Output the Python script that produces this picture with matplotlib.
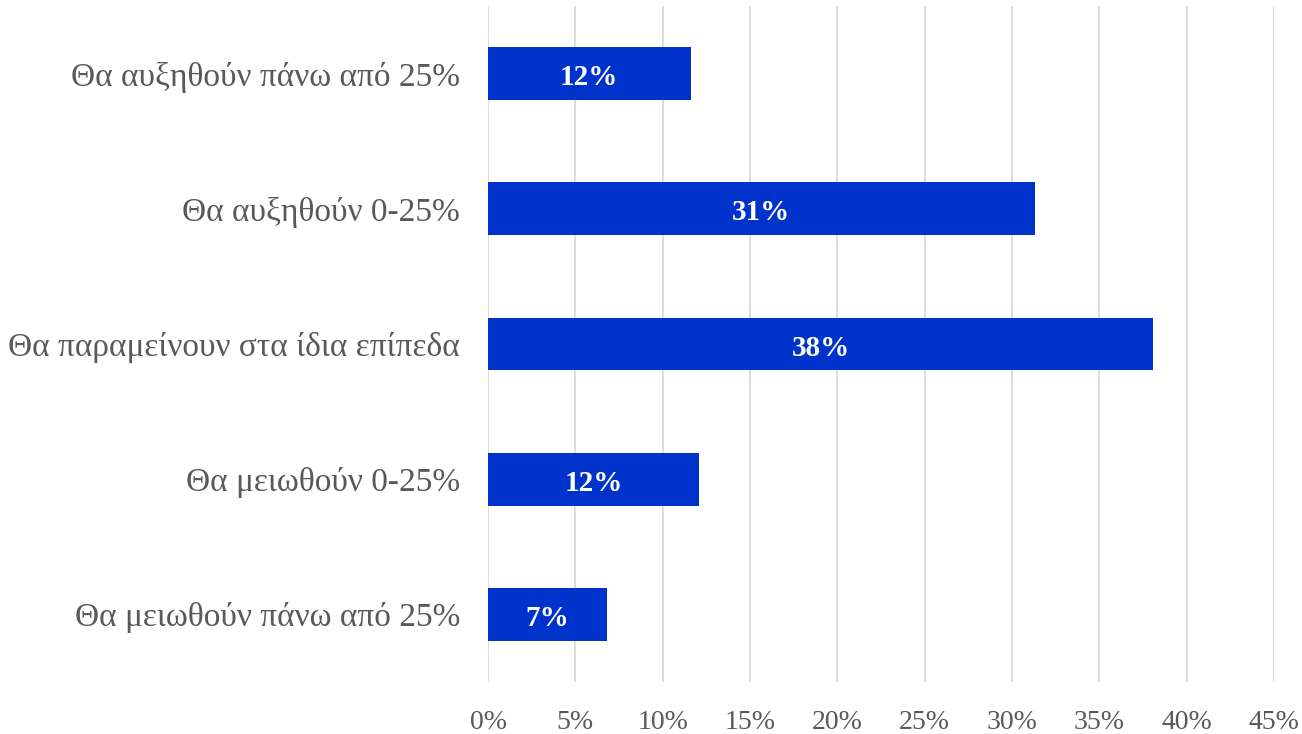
import matplotlib
matplotlib.use("Agg")
import matplotlib.pyplot as plt
from matplotlib.ticker import FuncFormatter

categories = [
    "Θα αυξηθούν πάνω από 25%",
    "Θα αυξηθούν 0-25%",
    "Θα παραμείνουν στα ίδια επίπεδα",
    "Θα μειωθούν 0-25%",
    "Θα μειωθούν πάνω από 25%",
]
values = [11.6, 31.3, 38.1, 12.1, 6.8]
x_ticks = [0, 5, 10, 15, 20, 25, 30, 35, 40, 45]

bar_color = "#0033CC"
grid_color = "#D9D9D9"
text_color = "#595959"
font = ["Liberation Serif", "DejaVu Serif"]

fig = plt.figure(figsize=(13.02, 7.34), dpi=100)
ax = fig.add_axes([488 / 1302, 1 - 682 / 734, (1274 - 488) / 1302, 676 / 734])

ypos = list(range(len(categories)))[::-1]
ax.barh(ypos, values, height=0.39, color=bar_color, zorder=3)

for y, v in zip(ypos, values):
    ax.text(v / 2, y - 0.03, f"{round(v):d}%", ha="center", va="center",
            color="white", fontweight="bold", fontsize=21, family=font, zorder=4)

ax.set_xlim(0, 45)
ax.set_ylim(-0.5, len(categories) - 0.5)
ax.set_xticks(x_ticks)
ax.xaxis.set_major_formatter(FuncFormatter(lambda x, _: f"{x:.0f}%"))
ax.set_yticks(ypos)
ax.set_yticklabels(categories)

ax.grid(axis="x", color=grid_color, linewidth=1.3, zorder=0)
ax.grid(axis="y", visible=False)
for s in ax.spines.values():
    s.set_visible(False)
ax.tick_params(axis="both", length=0, colors=text_color)
ax.tick_params(axis="x", pad=20, labelsize=20)
ax.tick_params(axis="y", pad=20, labelsize=24)
for lbl in ax.get_xticklabels() + ax.get_yticklabels():
    lbl.set_family(font)
    lbl.set_color(text_color)

fig.savefig("out.png", dpi=100, facecolor="white")
